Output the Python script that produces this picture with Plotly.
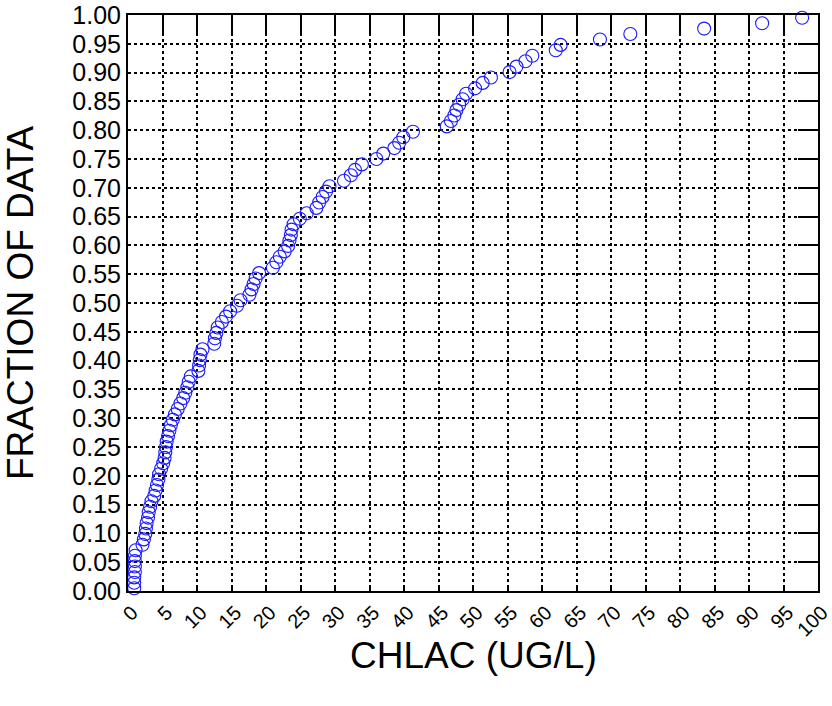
import plotly.graph_objects as go

# CHLAC values (ug/L), sorted
chlac = [0.9, 0.9, 0.9, 1.0, 1.0, 1.0, 1.0, 1.1, 2.1, 2.3,
         2.5, 2.6, 2.7, 2.9, 3.0, 3.2, 3.4, 3.8, 4.0, 4.2,
         4.4, 4.5, 4.8, 5.1, 5.3, 5.4, 5.5, 5.6, 5.8, 6.0,
         6.2, 6.5, 6.8, 7.2, 7.6, 8.0, 8.3, 8.6, 8.8, 9.1,
         10.2, 10.3, 10.4, 10.5, 10.8, 12.5, 12.6, 12.8, 13.0, 13.6,
         14.2, 14.8, 15.8, 16.3, 17.6, 17.9, 18.2, 18.5, 19.0, 21.0,
         21.5, 22.0, 22.7, 23.2, 23.4, 23.6, 23.7, 24.0, 24.9, 25.9,
         27.3, 27.7, 28.2, 28.7, 29.2, 31.3, 32.3, 32.9, 33.9, 36.0,
         37.0, 38.6, 39.3, 39.9, 41.3, 46.2, 46.8, 47.3, 47.6, 48.0,
         48.5, 49.0, 50.3, 51.4, 52.6, 55.3, 56.3, 57.6, 58.6, 62.0,
         62.7, 68.4, 72.8, 83.5, 91.9, 97.7]

# Fraction of data for each point
fraction = [0.0047, 0.0142, 0.0236, 0.0330, 0.0425, 0.0519, 0.0613, 0.0708, 0.0802, 0.0896,
            0.0991, 0.1085, 0.1179, 0.1274, 0.1368, 0.1462, 0.1557, 0.1651, 0.1745, 0.1840,
            0.1934, 0.2028, 0.2123, 0.2217, 0.2311, 0.2406, 0.2500, 0.2594, 0.2689, 0.2783,
            0.2877, 0.2972, 0.3066, 0.3160, 0.3255, 0.3349, 0.3443, 0.3538, 0.3632, 0.3726,
            0.3821, 0.3915, 0.4009, 0.4104, 0.4198, 0.4292, 0.4387, 0.4481, 0.4575, 0.4670,
            0.4764, 0.4858, 0.4953, 0.5047, 0.5142, 0.5236, 0.5330, 0.5425, 0.5519, 0.5613,
            0.5708, 0.5802, 0.5896, 0.5991, 0.6085, 0.6179, 0.6274, 0.6368, 0.6462, 0.6557,
            0.6651, 0.6745, 0.6840, 0.6934, 0.7028, 0.7123, 0.7217, 0.7311, 0.7406, 0.7500,
            0.7594, 0.7689, 0.7783, 0.7877, 0.7972, 0.8066, 0.8160, 0.8255, 0.8349, 0.8443,
            0.8538, 0.8632, 0.8726, 0.8821, 0.8915, 0.9009, 0.9104, 0.9198, 0.9292, 0.9387,
            0.9481, 0.9575, 0.9670, 0.9764, 0.9858, 0.9953]

x_ticks = list(range(0, 101, 5))
y_ticks = [round(i * 0.05, 2) for i in range(21)]
x_title = "CHLAC (UG/L)"
y_title = "FRACTION OF DATA"

FONT = "Liberation Sans, Arial, sans-serif"

fig = go.Figure()
fig.add_trace(go.Scatter(
    x=chlac, y=fraction, mode="markers",
    marker=dict(symbol="circle-open", size=13, color="#1a1aff",
                line=dict(width=1.1, color="#1a1aff")),
    cliponaxis=False, showlegend=False, hoverinfo="x+y"))
# helper trace so the mirrored top/right tick axes render
fig.add_trace(go.Scatter(x=[-50], y=[-50], xaxis="x2", yaxis="y2",
                         mode="markers", showlegend=False, hoverinfo="skip",
                         marker=dict(size=1, color="rgba(0,0,0,0)")))

fig.update_layout(
    width=832, height=706,
    margin=dict(l=128, r=14, t=15, b=115),
    paper_bgcolor="white", plot_bgcolor="white",
    font=dict(family=FONT, color="black"),
    xaxis=dict(range=[0, 100], tickvals=x_ticks, ticktext=[str(v) for v in x_ticks],
               tickangle=-45, tickfont=dict(size=20, family=FONT),
               ticklabelshift=4, ticklabeloverflow="allow", automargin=False,
               showgrid=True, gridcolor="black", griddash="dot", gridwidth=1.5,
               showline=True, linecolor="black", linewidth=2, mirror=True,
               ticks="inside", ticklen=4, tickwidth=1.5, tickcolor="black",
               zeroline=False, fixedrange=True),
    yaxis=dict(range=[0, 1], tickvals=y_ticks, ticktext=[f"{v:.2f}" for v in y_ticks],
               tickfont=dict(size=25, family=FONT), automargin=False,
               ticklabeloverflow="allow",
               showgrid=True, gridcolor="black", griddash="dot", gridwidth=1.5,
               showline=True, linecolor="black", linewidth=2, mirror=True,
               ticks="", zeroline=False, fixedrange=True),
    xaxis2=dict(range=[0, 100], overlaying="x", side="top", anchor="y",
                tickvals=x_ticks, showticklabels=False, showgrid=False, automargin=False,
                ticks="inside", ticklen=18, tickwidth=2, tickcolor="black",
                zeroline=False, showline=False, fixedrange=True),
    yaxis2=dict(range=[0, 1], overlaying="y", side="right", anchor="x",
                tickvals=y_ticks, showticklabels=False, showgrid=False, automargin=False,
                ticks="inside", ticklen=20, tickwidth=2, tickcolor="black",
                zeroline=False, showline=False, fixedrange=True),
    annotations=[
        dict(text=x_title, xref="paper", yref="paper", x=0.5, y=0, yshift=-64,
             xanchor="center", yanchor="middle", showarrow=False,
             font=dict(size=37, family=FONT)),
        dict(text=y_title, xref="paper", yref="paper", x=0, xshift=-108, y=0.5,
             xanchor="center", yanchor="middle", textangle=-90, showarrow=False,
             font=dict(size=37, family=FONT)),
    ],
)

fig.write_html("out.html")
